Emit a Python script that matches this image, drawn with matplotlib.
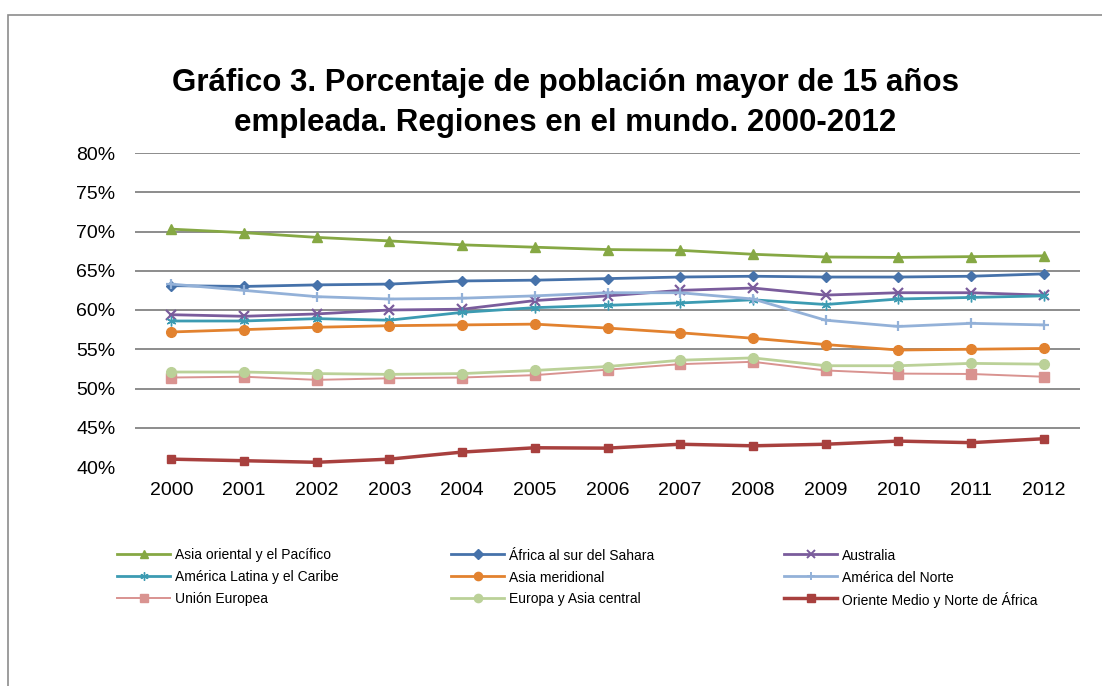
"""Gráfico 3: porcentaje de población mayor de 15 años empleada, 2000-2012."""
import numpy as np
import matplotlib
matplotlib.use("Agg")
import matplotlib.pyplot as plt
from matplotlib.lines import Line2D
from matplotlib.patches import Rectangle
from matplotlib.ticker import PercentFormatter

plt.rcParams["font.family"] = ["Liberation Sans", "DejaVu Sans"]

years = ["2000", "2001", "2002", "2003", "2004", "2005", "2006",
         "2007", "2008", "2009", "2010", "2011", "2012"]

asia_oriental = [70.3, 69.85, 69.25, 68.8, 68.3, 68.0, 67.7, 67.6, 67.1, 66.75, 66.7, 66.8, 66.9]
africa_sur = [63.1, 63.0, 63.2, 63.3, 63.7, 63.8, 64.0, 64.2, 64.3, 64.2, 64.2, 64.3, 64.6]
australia = [59.4, 59.2, 59.5, 60.0, 60.1, 61.2, 61.8, 62.5, 62.8, 61.9, 62.2, 62.2, 61.9]
america_latina = [58.6, 58.6, 58.9, 58.7, 59.7, 60.3, 60.6, 60.9, 61.3, 60.7, 61.4, 61.6, 61.8]
asia_meridional = [57.2, 57.5, 57.8, 58.0, 58.1, 58.2, 57.7, 57.1, 56.4, 55.6, 54.9, 55.0, 55.1]
america_norte = [63.3, 62.5, 61.7, 61.4, 61.5, 61.8, 62.2, 62.2, 61.4, 58.7, 57.9, 58.3, 58.1]
union_europea = [51.4, 51.5, 51.1, 51.3, 51.4, 51.7, 52.4, 53.1, 53.4, 52.3, 51.9, 51.85, 51.5]
europa_asia_central = [52.1, 52.1, 51.9, 51.8, 51.9, 52.3, 52.8, 53.6, 53.9, 52.9, 52.9, 53.2, 53.1]
oriente_medio = [41.0, 40.8, 40.6, 41.0, 41.9, 42.45, 42.4, 42.9, 42.7, 42.9, 43.3, 43.1, 43.6]

# (label, values, color, marker, markersize, linewidth)
SERIES = [
    ("Asia oriental y el Pacífico", asia_oriental, "#86A844", "^", 7, 2.0),
    ("África al sur del Sahara", africa_sur, "#4672AA", "D", 5.5, 2.0),
    ("Australia", australia, "#7A5C9C", "x", 6.5, 2.0),
    ("América Latina y el Caribe", america_latina, "#3C9BB2", (6, 2, 0), 7, 2.0),
    ("Asia meridional", asia_meridional, "#E2822F", "o", 7, 2.0),
    ("América del Norte", america_norte, "#93B1D8", "+", 7.5, 2.0),
    ("Unión Europea", union_europea, "#D99390", "s", 6.5, 1.4),
    ("Europa y Asia central", europa_asia_central, "#BBD198", "o", 7, 2.0),
    ("Oriente Medio y Norte de África", oriente_medio, "#A8403E", "s", 6, 2.5),
]

W, H = 1102, 686
fig = plt.figure(figsize=(W / 100, H / 100), dpi=100)
ax = fig.add_axes([135 / W, 1 - 467 / H, (1080 - 135) / W, (467 - 153) / H])

x = np.arange(len(years))
for label, vals, c, m, ms, lw in SERIES:
    mew = 1.6 if m in ("x", "+") else 1.0
    ax.plot(x, vals, color=c, marker=m, markersize=ms, linewidth=lw,
            markeredgewidth=mew, markeredgecolor=c, label=label)

ax.set_xlim(-0.5, len(years) - 0.5)
ax.set_ylim(40, 80)
ax.set_yticks(np.arange(40, 81, 5))
ax.yaxis.set_major_formatter(PercentFormatter(decimals=0))
ax.set_xticks(x)
ax.set_xticklabels(years)
ax.tick_params(length=0, labelsize=14, colors="black")
ax.tick_params(axis="y", pad=14)
ax.tick_params(axis="x", pad=11)
for s in ax.spines.values():
    s.set_visible(False)
ax.grid(axis="y", color="#8C8C8C", linewidth=1.4)
ax.set_axisbelow(True)
# no rule at the 40% baseline in the source
ax.get_ygridlines()[0].set_visible(False)

fig.text(565 / W, 1 - 103 / H,
         "Gráfico 3. Porcentaje de población mayor de 15 años\nempleada. Regiones en el mundo. 2000-2012",
         ha="center", va="center", fontsize=22.5, fontweight="bold", linespacing=1.4)

# legend, Excel style: 3 columns at fixed pitch, filled row by row
col_x = [117, 451, 784]
row_y = [554, 576, 598]
handle_w = 53
for i, (label, vals, c, m, ms, lw) in enumerate(SERIES):
    x0 = col_x[i % 3]
    y0 = 1 - row_y[i // 3] / H
    xs = np.array([x0, x0 + handle_w / 2, x0 + handle_w]) / W
    mew = 1.4 if m in ("x", "+") else 1.0
    fig.add_artist(Line2D(xs, [y0] * 3, transform=fig.transFigure, color=c,
                          linewidth=lw, marker=m, markevery=[1], markersize=ms * 0.85,
                          markeredgewidth=mew, markeredgecolor=c))
    fig.text((x0 + handle_w + 5) / W, y0, label, ha="left", va="center_baseline",
             fontsize=10)

# outer chart frame (cut off at right/bottom as in the source)
fig.patches.append(Rectangle((8 / W, -0.1), 1.2, 1.1 - 15 / H, transform=fig.transFigure,
                             fill=False, edgecolor="#8C8C8C", linewidth=1.2))

fig.savefig("out.png", dpi=100)
plt.close(fig)
